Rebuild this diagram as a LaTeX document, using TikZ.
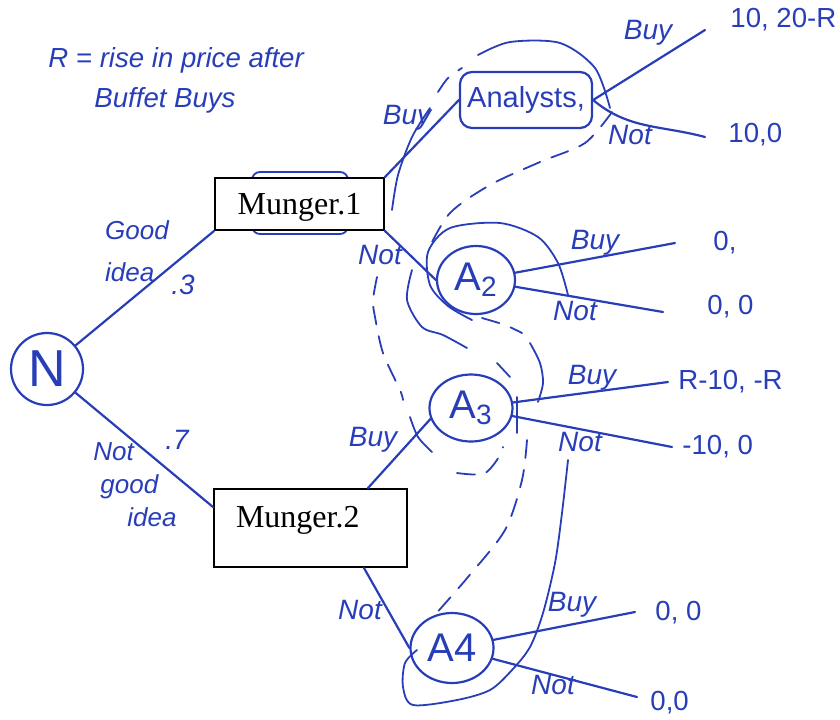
\documentclass[tikz,border=0pt]{standalone}
\usepackage{fontspec}
\usetikzlibrary{shapes.geometric,positioning}
\newfontfamily\handfont{Liberation Sans}
\newfontfamily\typefont{Liberation Serif}
\definecolor{ink}{RGB}{40,62,185}

\begin{document}
\begin{tikzpicture}[x=0.5pt,y=-0.5pt,
  inkline/.style={draw=ink,line width=1.1pt,line cap=round},
  infoset/.style={draw=ink,line width=0.9pt,line cap=round},
  infodash/.style={infoset,dash pattern=on 9pt off 6pt},
  chance/.style={circle,draw=ink,line width=1.1pt,minimum size=36pt,inner sep=0pt,
    text=ink,font=\handfont\fontsize{26}{28}\selectfont},
  mover/.style={ellipse,draw=ink,line width=1.1pt,inner sep=0pt,
    text=ink,font=\handfont\fontsize{20}{22}\selectfont},
  typed/.style={draw=black,line width=1pt,fill=white,
    font=\typefont\fontsize{16}{19}\selectfont},
  hand/.style={text=ink,inner sep=0pt,align=left,
    font=\handfont\itshape\fontsize{14}{16}\selectfont},
  pay/.style={text=ink,inner sep=0pt,anchor=west,
    font=\handfont\fontsize{13.8}{15}\selectfont}]
  \useasboundingbox (0,0) rectangle (840,719);

  % --- note on R ---
  \node[hand,anchor=west,font=\handfont\itshape\fontsize{13.8}{20}\selectfont] (note) at (48,80)
    {R = rise in price after\\\hspace{23pt}Buffet Buys};

  % --- information sets (hand drawn) ---
  \draw[infoset,rounded corners=4pt] (252,172) rectangle (348,234);
  \draw[infoset] plot[smooth] coordinates {(478,55) (510,42) (560,43) (595,68) (610,108)};
  \draw[infodash] plot[smooth] coordinates {(438,92) (448,78) (462,68)};
  \draw[infoset] plot[smooth] coordinates {(430,108) (412,137) (398,175) (392,210)};
  \draw[infodash] plot[smooth] coordinates {(612,112) (585,143) (540,162) (490,185) (450,213) (428,250)};
  \draw[infoset] plot[smooth] coordinates {(568,295) (558,263) (538,237) (500,223) (450,228)
    (428,252) (430,285) (448,306) (472,320)};
  \draw[infoset] plot[smooth] coordinates {(412,270) (407,300) (422,327) (443,335) (467,348)};
  \draw[infodash] plot[smooth] coordinates {(482,318) (505,325) (522,333)};
  \draw[infoset] plot[smooth] coordinates {(530,343) (540,363) (543,383) (538,402)};
  \draw[infoset] plot[smooth] coordinates {(497,363) (510,377)};
  \draw[infodash] plot[smooth] coordinates {(377,277) (373,300) (375,317) (383,353) (400,390) (403,400)};
  \draw[infoset] plot[smooth] coordinates {(410,417) (418,437) (432,452)};
  \draw[infodash] plot[smooth] coordinates {(457,473) (483,474) (497,460) (503,447)};
  \draw[infoset] (517,397) -- (517,433);
  \draw[infodash] plot[smooth] coordinates {(527,440) (522,480) (505,530) (468,577) (433,617)};
  \draw[infoset] plot[smooth] coordinates {(568,460) (562,513) (555,563) (543,613) (530,647)
    (512,670) (490,690) (457,700) (413,705) (403,687) (405,663) (417,650)};

  % --- nodes ---
  \node[chance] (n) at (47,369) {N};
  \node[typed,minimum width=84.5pt,minimum height=26pt,text depth=0pt] (m1) at (299.5,204) {Munger.1};
  \node[typed,minimum width=96.5pt,minimum height=39pt,inner xsep=11pt,text width=74.5pt,
    align=left,text depth=11pt] (m2) at (310.5,528) {Munger.2};
  \node[draw=ink,line width=1.1pt,rounded corners=6pt,minimum width=66pt,minimum height=28pt,
    text=ink,font=\handfont\fontsize{14.5}{16}\selectfont] (ana) at (526,100) {Analysts,};
  \node[mover,minimum width=39pt,minimum height=34pt] (a2) at (476,280) {A\textsubscript{2}};
  \node[mover,minimum width=41.5pt,minimum height=33.5pt] (a3) at (471,408) {A\textsubscript{3}};
  \node[mover,minimum width=41.5pt,minimum height=35pt] (a4) at (452,648) {A4};

  % --- free ends of the last moves ---
  \coordinate (e1b) at (705,30);
  \coordinate (e1n) at (705,137);
  \coordinate (e2b) at (675,243);
  \coordinate (e2n) at (663,312);
  \coordinate (e3b) at (668,382);
  \coordinate (e3n) at (672,447);
  \coordinate (e4b) at (635,612);
  \coordinate (e4n) at (637,697);

  % --- moves ---
  \draw[inkline] (n) -- (m1.south west);
  \draw[inkline] (n) -- ([yshift=-9.5pt]m2.north west);
  \draw[inkline] (m1.north east) -- (ana.west);
  \draw[inkline] (m1.south east) -- (a2.west);
  \draw[inkline] ([xshift=-20pt]m2.north east) -- (a3.195);
  \draw[inkline] ([xshift=-22pt]m2.south east) -- (a4.west);
  \draw[inkline] (ana.east) -- (e1b);
  \draw[inkline] (ana.east) to[out=-40,in=165] (e1n);
  \foreach \k in {2,3,4} {
    \draw[inkline] (a\k) -- (e\k b);
    \draw[inkline] (a\k) -- (e\k n);
  }

  % --- move labels ---
  \node[hand,font=\handfont\itshape\fontsize{13}{21}\selectfont] (lgood) at (137,251) {Good\\idea};
  \node[hand] (p3) at (183,285) {.3};
  \node[hand] (p7) at (177,440) {.7};
  \node[hand,anchor=north west,font=\handfont\itshape\fontsize{13}{16.5}\selectfont] (lbad) at (93,442)
    {Not\\\hspace{3.5pt}good\\\hspace{17pt}idea};
  \node[hand] (l1b) at (407,118) {Buy};
  \node[hand] (l1n) at (380,255) {Not};
  \node[hand] (l2b) at (373,440) {Buy};
  \node[hand] (l2n) at (360,610) {Not};
  \node[hand] (lab) at (648,33) {Buy};
  \node[hand] (lan) at (630,135) {Not};
  \node[hand] (l2bb) at (595,243) {Buy};
  \node[hand] (l2nn) at (575,311) {Not};
  \node[hand] (l3b) at (592,378) {Buy};
  \node[hand] (l3n) at (580,442) {Not};
  \node[hand] (l4b) at (572,605) {Buy};
  \node[hand] (l4n) at (553,685) {Not};

  % --- payoffs ---
  \node[pay] (pab) at (730,20) {10, 20-R};
  \node[pay] (pan) at (728,135) {10,0};
  \node[pay] (p2b) at (713,243) {0,};
  \node[pay] (p2n) at (707,307) {0, 0};
  \node[pay] (p3b) at (678,382) {R-10, -R};
  \node[pay] (p3n) at (682,447) {-10, 0};
  \node[pay] (p4b) at (655,613) {0, 0};
  \node[pay] (p4n) at (650,703) {0,0};
\end{tikzpicture}
\end{document}
